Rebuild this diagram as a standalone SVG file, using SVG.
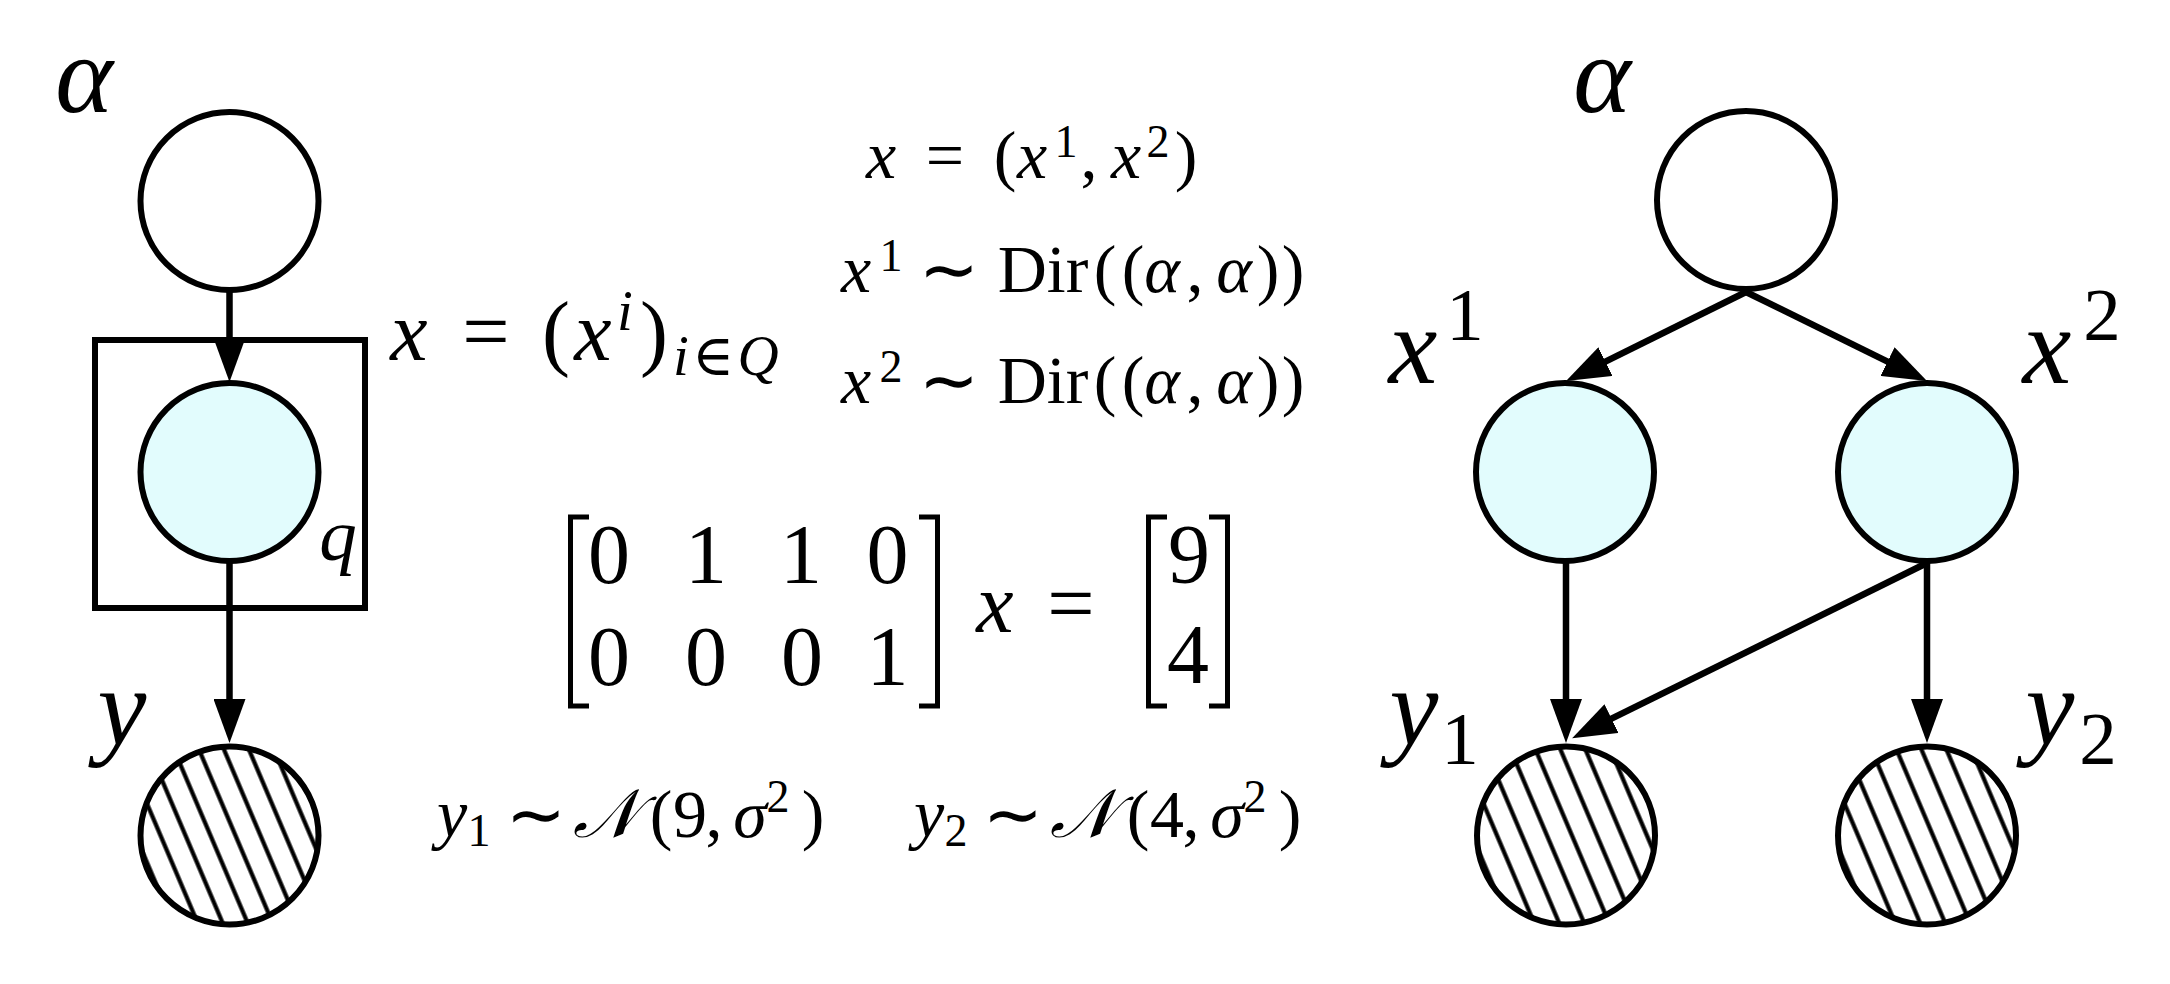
<svg xmlns="http://www.w3.org/2000/svg" width="2170" height="984" viewBox="0 0 2170 984">
<style>
  .nd { stroke:#000; stroke-width:6; }
  .plain { fill:#fff; }
  .obs { fill:#e2fcfd; }
  .hatch { fill:url(#hatch); }
  .edge { stroke:#000; stroke-width:6.5; fill:none; marker-end:url(#ah); }
  .br { stroke:#000; stroke-width:5; fill:none; }
  text { font-family:"Liberation Serif","DejaVu Serif",serif; fill:#000; text-anchor:middle; }
  .it { font-style:italic; }
  .up { font-style:normal; }
  .lab { font-size:110px; }
  .eq { font-size:68px; }
  .eqs { font-size:46px; }
  .big { font-size:84px; }
  .bigs { font-size:57px; }
  .sim { font-family:"DejaVu Sans",sans-serif; font-style:normal; font-size:72px; }
</style>
<defs>
  <pattern id="hatch" patternUnits="userSpaceOnUse" width="23" height="23" patternTransform="rotate(-23)">
    <rect width="23" height="23" fill="#fff"/>
    <line x1="5.5" y1="-1" x2="5.5" y2="24" stroke="#000" stroke-width="4.2"/>
  </pattern>
  <marker id="ah" markerUnits="userSpaceOnUse" viewBox="0 0 44 32" refX="8" refY="16" markerWidth="44" markerHeight="32" orient="auto">
    <path d="M0,0 L44,16 L0,32 z" fill="#000"/>
  </marker>
</defs>

<!-- plate -->
<g id="plate">
  <rect x="95" y="340" width="270" height="268" fill="none" stroke="#000" stroke-width="6"/>
  <text class="it" x="338" y="560" style="font-size:75px">q</text>
</g>

<!-- left graph nodes -->
<g id="alphaL" transform="translate(229.5,201)">
  <circle class="nd plain" r="89"/>
</g>
<g id="xL" transform="translate(229.5,472)">
  <circle class="nd obs" r="89"/>
</g>
<g id="yL" transform="translate(229.5,835.5)">
  <circle class="nd hatch" r="89"/>
</g>

<!-- right graph nodes -->
<g id="alphaR" transform="translate(1746,200)">
  <circle class="nd plain" r="89"/>
</g>
<g id="x1" transform="translate(1565,472)">
  <circle class="nd obs" r="89"/>
</g>
<g id="x2" transform="translate(1927,472)">
  <circle class="nd obs" r="89"/>
</g>
<g id="y1" transform="translate(1566,835.5)">
  <circle class="nd hatch" r="89"/>
</g>
<g id="y2" transform="translate(1927,835.5)">
  <circle class="nd hatch" r="89"/>
</g>

<!-- connectors -->
<g id="connectors">
  <line class="edge" x1="229.5" y1="292" x2="229.5" y2="346"/>
  <line class="edge" x1="229.5" y1="563" x2="229.5" y2="707"/>
  <line class="edge" x1="1746" y1="292" x2="1598.3" y2="365.1"/>
  <line class="edge" x1="1746" y1="292" x2="1894.7" y2="365.1"/>
  <line class="edge" x1="1566" y1="563" x2="1566" y2="707"/>
  <line class="edge" x1="1927" y1="563" x2="1927" y2="707"/>
  <line class="edge" x1="1927" y1="563" x2="1604.4" y2="722.2"/>
</g>

<!-- node labels -->
<g id="labels">
  <text class="it lab" x="84" y="112">α</text>
  <text class="it lab" x="122" y="745">y</text>
  <text class="it lab" x="1602" y="112">α</text>
  <text class="lab"><tspan class="it" x="1413" y="383">x</tspan><tspan class="up" x="1465" y="340" style="font-size:75px">1</tspan></text>
  <text class="lab"><tspan class="it" x="2047" y="383">x</tspan><tspan class="up" x="2102" y="340" style="font-size:75px">2</tspan></text>
  <text class="lab"><tspan class="it" x="1414" y="745">y</tspan><tspan class="up" x="1460" y="764" style="font-size:75px">1</tspan></text>
  <text class="lab"><tspan class="it" x="2050" y="745">y</tspan><tspan class="up" x="2098" y="764" style="font-size:75px">2</tspan></text>
</g>

<!-- x = (x^i)_{i in Q} -->
<g id="eq-plate">
  <text class="big"><tspan class="it" x="409" y="360">x</tspan><tspan class="up" x="486" y="360">=</tspan><tspan class="up" x="556" y="360">(</tspan><tspan class="it" x="593" y="360">x</tspan><tspan class="it bigs" x="625" y="330">i</tspan><tspan class="up" x="654" y="360">)</tspan><tspan class="it bigs" x="681" y="375">i</tspan><tspan class="up bigs" x="713" y="375">∈</tspan><tspan class="it bigs" x="758" y="375">Q</tspan></text>
</g>

<!-- definitions -->
<g id="eq-defs">
  <text class="eq"><tspan class="it" x="881" y="178">x</tspan><tspan class="up" x="945" y="178">=</tspan><tspan class="up" x="1005" y="178">(</tspan><tspan class="it" x="1032" y="178">x</tspan><tspan class="up eqs" x="1066" y="157">1</tspan><tspan class="up" x="1089" y="178">,</tspan><tspan class="it" x="1126" y="178">x</tspan><tspan class="up eqs" x="1158" y="157">2</tspan><tspan class="up" x="1186" y="178">)</tspan></text>
  <text class="eq"><tspan class="it" x="856" y="292">x</tspan><tspan class="up eqs" x="891" y="271">1</tspan><tspan class="sim" x="949" y="294">∼</tspan><tspan class="up" x="1043" y="292">Dir</tspan><tspan class="up" x="1105" y="292">(</tspan><tspan class="up" x="1133" y="292">(</tspan><tspan class="it" x="1162" y="292">α</tspan><tspan class="up" x="1195" y="292">,</tspan><tspan class="it" x="1234" y="292">α</tspan><tspan class="up" x="1268" y="292">)</tspan><tspan class="up" x="1293" y="292">)</tspan></text>
  <text class="eq"><tspan class="it" x="856" y="403">x</tspan><tspan class="up eqs" x="891" y="382">2</tspan><tspan class="sim" x="949" y="405">∼</tspan><tspan class="up" x="1043" y="403">Dir</tspan><tspan class="up" x="1105" y="403">(</tspan><tspan class="up" x="1133" y="403">(</tspan><tspan class="it" x="1162" y="403">α</tspan><tspan class="up" x="1195" y="403">,</tspan><tspan class="it" x="1234" y="403">α</tspan><tspan class="up" x="1268" y="403">)</tspan><tspan class="up" x="1293" y="403">)</tspan></text>
</g>

<!-- matrix equation -->
<g id="eq-matrix">
  <path class="br" d="M589,517 H570.5 V706 H589"/>
  <path class="br" d="M919,517 H937.5 V706 H919"/>
  <path class="br" d="M1167,517 H1148.5 V706 H1167"/>
  <path class="br" d="M1209,517 H1227.5 V706 H1209"/>
  <text class="big up">
    <tspan x="609" y="583">0</tspan><tspan x="706" y="583">1</tspan><tspan x="801" y="583">1</tspan><tspan x="898" y="583">0</tspan>
    <tspan x="609" y="685">0</tspan><tspan x="706" y="685">0</tspan><tspan x="802" y="685">0</tspan><tspan x="898" y="685">1</tspan>
    <tspan x="1189" y="583">9</tspan><tspan x="1188" y="683">4</tspan>
  </text>
  <text class="big"><tspan class="it" x="995" y="632">x</tspan><tspan class="up" x="1071" y="632">=</tspan></text>
</g>

<!-- likelihoods -->
<g id="eq-lik">
  <text class="eq"><tspan class="it" x="452" y="837">y</tspan><tspan class="up eqs" x="479" y="846">1</tspan><tspan class="sim" x="536" y="839">∼</tspan><tspan class="it" x="605" y="837">𝒩</tspan><tspan class="up" x="661" y="837">(</tspan><tspan class="up" x="690" y="837">9</tspan><tspan class="up" x="714" y="837">,</tspan><tspan class="it" x="750" y="837">σ</tspan><tspan class="up eqs" x="778" y="812">2</tspan><tspan class="up" x="813" y="837">)</tspan></text>
  <text class="eq"><tspan class="it" x="929" y="837">y</tspan><tspan class="up eqs" x="956" y="846">2</tspan><tspan class="sim" x="1013" y="839">∼</tspan><tspan class="it" x="1082" y="837">𝒩</tspan><tspan class="up" x="1138" y="837">(</tspan><tspan class="up" x="1167" y="837">4</tspan><tspan class="up" x="1191" y="837">,</tspan><tspan class="it" x="1227" y="837">σ</tspan><tspan class="up eqs" x="1255" y="812">2</tspan><tspan class="up" x="1290" y="837">)</tspan></text>
</g>
</svg>
